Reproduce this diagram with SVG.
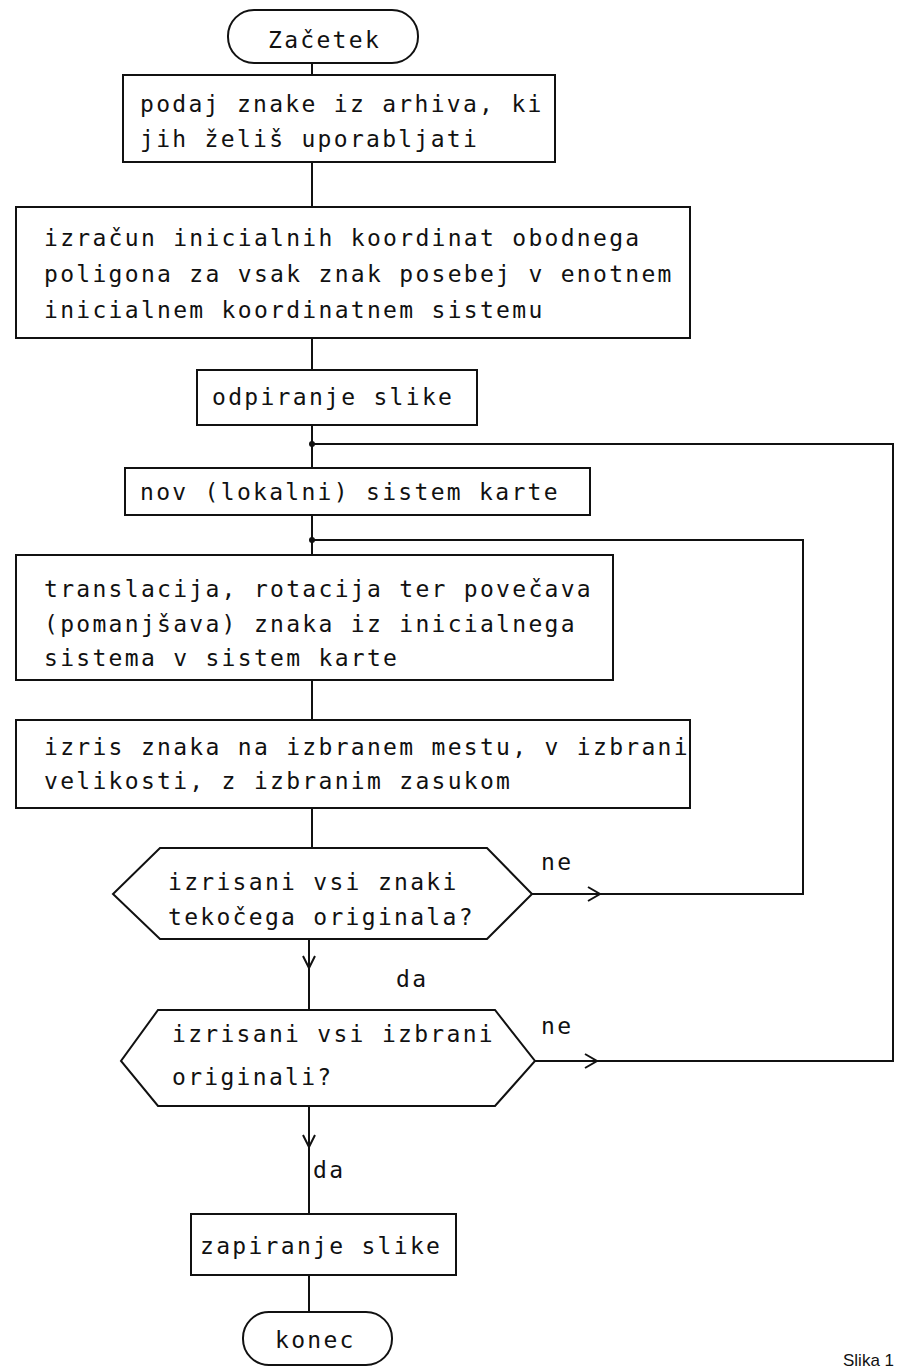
<svg xmlns="http://www.w3.org/2000/svg" width="905" height="1368" viewBox="0 0 905 1368">
<style>
.s{fill:none;stroke:#111;stroke-width:2}
.b{fill:#fff;stroke:#111;stroke-width:2}
.t{font-family:"DejaVu Sans Mono","Liberation Mono",monospace;font-size:23px;letter-spacing:2.3px;fill:#111}
.c{font-family:"Liberation Sans",Arial,sans-serif;font-size:17px;fill:#111}
</style>
<rect width="905" height="1368" fill="#fff"/>
<g id="connectors">
<path class="s" d="M312,63V75 M312,162V207 M312,338V370 M312,425V468 M312,515V555 M312,680V720 M312,808V848 M309,939V1010 M309,1106V1214 M309,1275V1312"/>
<path class="s" d="M532,894H803V540H312"/>
<path class="s" d="M535,1061H893V444H312"/>
<path class="s" d="M588,887L600,894L588,901 M585,1054L597,1061L585,1068 M303,956L309,968L315,956 M303,1135L309,1147L315,1135"/>
<circle cx="312" cy="444" r="3" fill="#111"/>
<circle cx="312" cy="540" r="3" fill="#111"/>
<text class="t" x="541" y="870">ne</text>
<text class="t" x="396" y="987">da</text>
<text class="t" x="541" y="1034">ne</text>
<text class="t" x="313" y="1178">da</text>
</g>
<g id="start"><rect class="b" x="228" y="10" width="190" height="53" rx="26"/><text class="t" x="268" y="48">Začetek</text></g>
<g id="n1"><rect class="b" x="123" y="75" width="432" height="87"/><text class="t" x="140" y="112">podaj znake iz arhiva, ki</text><text class="t" x="140" y="147">jih želiš uporabljati</text></g>
<g id="n2"><rect class="b" x="16" y="207" width="674" height="131"/><text class="t" x="44" y="246">izračun inicialnih koordinat obodnega</text><text class="t" x="44" y="282">poligona za vsak znak posebej v enotnem</text><text class="t" x="44" y="318">inicialnem koordinatnem sistemu</text></g>
<g id="n3"><rect class="b" x="197" y="370" width="280" height="55"/><text class="t" x="212" y="405">odpiranje slike</text></g>
<g id="n4"><rect class="b" x="125" y="468" width="465" height="47"/><text class="t" x="140" y="500">nov (lokalni) sistem karte</text></g>
<g id="n5"><rect class="b" x="16" y="555" width="597" height="125"/><text class="t" x="44" y="597">translacija, rotacija ter povečava</text><text class="t" x="44" y="632">(pomanjšava) znaka iz inicialnega</text><text class="t" x="44" y="666">sistema v sistem karte</text></g>
<g id="n6"><rect class="b" x="16" y="720" width="674" height="88"/><text class="t" x="44" y="755">izris znaka na izbranem mestu, v izbrani</text><text class="t" x="44" y="789">velikosti, z izbranim zasukom</text></g>
<g id="d1"><polygon class="b" points="160,848 487,848 532,894 487,939 160,939 113,894"/><text class="t" x="168" y="890">izrisani vsi znaki</text><text class="t" x="168" y="925">tekočega originala?</text></g>
<g id="d2"><polygon class="b" points="158,1010 495,1010 535,1061 495,1106 158,1106 121,1061"/><text class="t" x="172" y="1042">izrisani vsi izbrani</text><text class="t" x="172" y="1085">originali?</text></g>
<g id="n7"><rect class="b" x="191" y="1214" width="265" height="61"/><text class="t" x="200" y="1254">zapiranje slike</text></g>
<g id="end"><rect class="b" x="243" y="1312" width="149" height="53" rx="26"/><text class="t" x="275" y="1348">konec</text></g>
<text class="c" x="843" y="1366">Slika 1</text>
</svg>
